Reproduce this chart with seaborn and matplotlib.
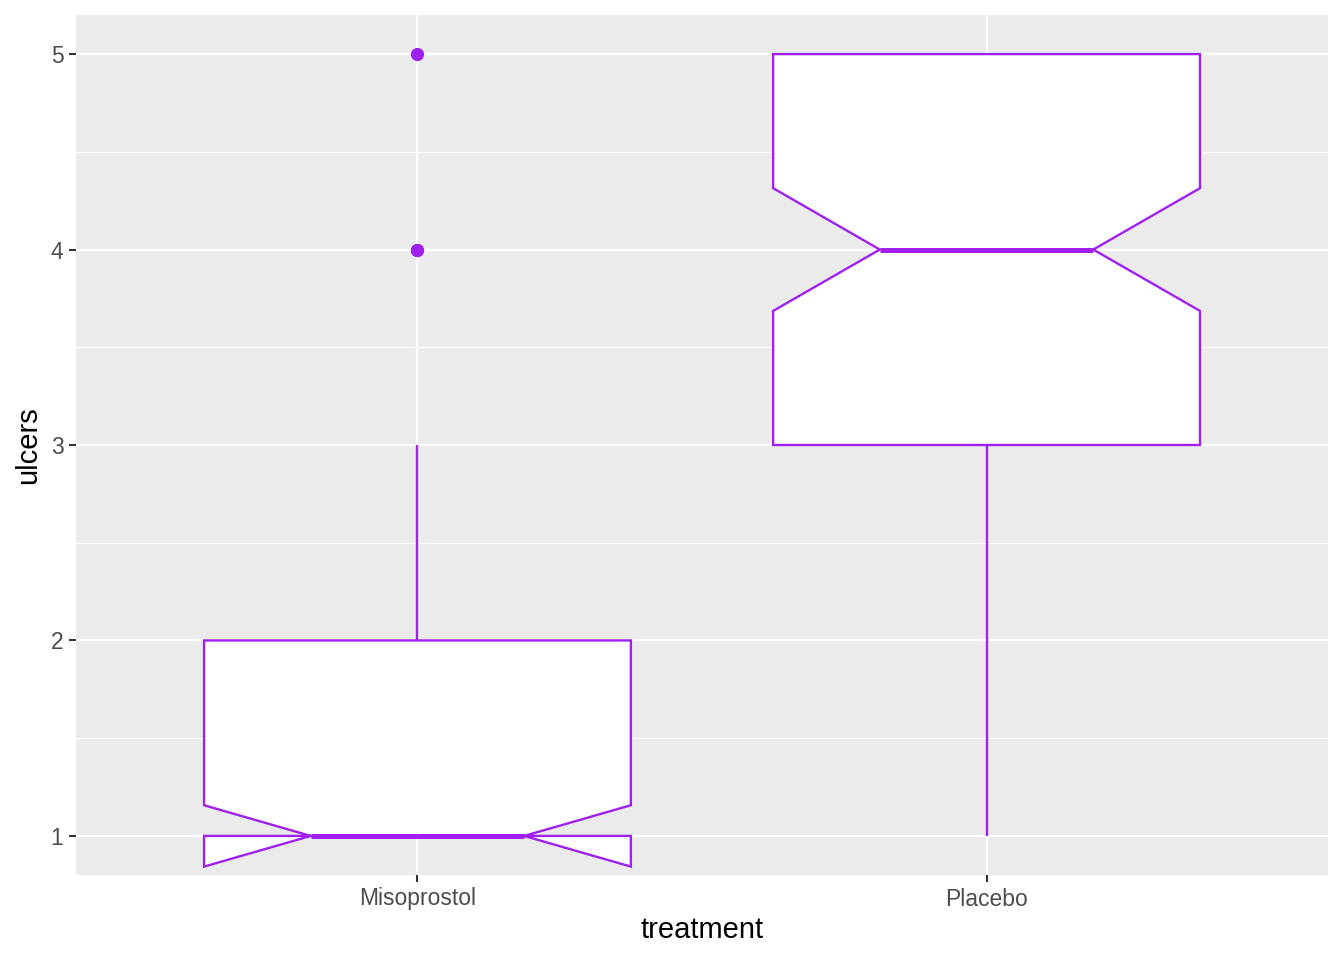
import numpy as np
import pandas as pd
import matplotlib.pyplot as plt
import seaborn as sns
from matplotlib.ticker import MultipleLocator

# ulcer counts per patient: how many patients had 1..5 ulcers in each group
ulcer_values = [1, 2, 3, 4, 5]
misoprostol_counts = [55, 30, 12, 2, 1]
placebo_counts = [5, 10, 25, 25, 35]
treatments = ['Misoprostol', 'Placebo']

df = pd.DataFrame({
    'treatment': np.repeat(treatments, [sum(misoprostol_counts), sum(placebo_counts)]),
    'ulcers': np.concatenate([np.repeat(ulcer_values, misoprostol_counts),
                              np.repeat(ulcer_values, placebo_counts)]),
})

purple = '#A020F0'

sns.set_theme(style='darkgrid', rc={
    'axes.facecolor': '#EBEBEB',
    'grid.color': 'white',
    'figure.facecolor': 'white',
})
plt.rcParams['font.family'] = ['Liberation Sans', 'DejaVu Sans']

fig = plt.figure(figsize=(13.44, 9.6), dpi=100)
ax = fig.add_axes([76 / 1344, 1 - 875 / 960, (1328 - 76) / 1344, (875 - 15) / 960])

sns.boxplot(
    data=df, x='treatment', y='ulcers', order=treatments,
    notch=True, color='white', saturation=1, linecolor=purple,
    linewidth=1.7, width=0.75, fliersize=8.5, ax=ax,
    medianprops={'linewidth': 3.6, 'color': purple},
    capprops={'linewidth': 0},
    flierprops={'marker': 'o', 'markerfacecolor': purple,
                'markeredgecolor': purple},
)

ax.set_xlim(-0.6, 1.6)
ax.set_ylim(0.8, 5.2)
ax.yaxis.set_major_locator(MultipleLocator(1))
ax.yaxis.set_minor_locator(MultipleLocator(0.5))
ax.grid(which='major', color='white', linewidth=1.6)
ax.grid(which='minor', axis='y', color='white', linewidth=0.8)
ax.set_axisbelow(True)
for s in ax.spines.values():
    s.set_visible(False)

ax.tick_params(axis='both', which='major', bottom=True, left=True,
               length=5, width=1.5, color='#333333',
               labelcolor='#4D4D4D', labelsize=16.5, pad=4)
ax.tick_params(axis='y', which='minor', length=0)
ax.set_xlabel('treatment', fontsize=21, color='black', labelpad=4)
ax.set_ylabel('ulcers', fontsize=21, color='black', labelpad=6)

fig.savefig('out.png', dpi=100)
